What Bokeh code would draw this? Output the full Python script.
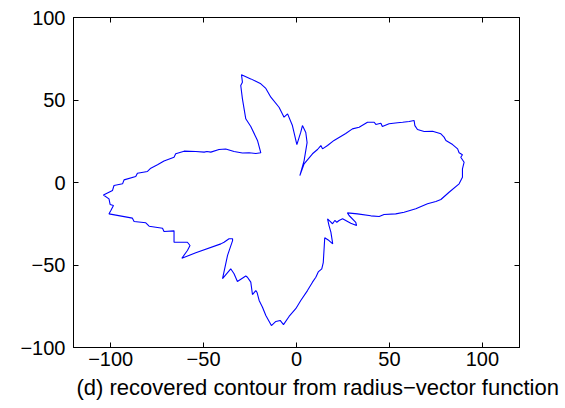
from bokeh.plotting import figure
from bokeh.models import Range1d, FixedTicker, LinearAxis, Title, CustomJSTickFormatter
from bokeh.embed import file_html
from bokeh.resources import INLINE

# Recovered contour, traced as (x, y) pairs going round the shape once
contour_x = [1.8, 4.1, 8.6, 11.3, 13.1, 14.0, 16.7, 20.2, 26.5, 30.1, 33.7, 38.2, 41.8, 42.7,
             45.4, 46.2, 49.8, 54.4, 57.1, 60.6, 63.3, 63.7, 65.1, 68.7, 73.2, 77.7, 79.4, 80.4,
             84.0, 86.7, 87.5, 89.3, 88.4, 90.2, 89.3, 89.3, 88.4, 87.5, 82.1, 77.7, 75.0, 70.5,
             64.2, 57.9, 53.4, 47.1, 44.5, 40.0, 32.8, 27.4, 28.3, 31.9, 32.3, 29.2, 24.8, 22.9,
             21.7, 20.6, 19.4, 18.1, 16.7, 17.5, 18.5, 19.5, 17.5, 15.2, 14.9, 14.4, 13.6, 11.7,
             10.4, 8.6, 5.9, 2.3, -0.4, -4.0, -7.0, -8.8, -11.1, -13.5, -16.5, -18.3, -20.1,
             -21.2, -21.9, -23.7, -24.6, -26.4, -27.3, -31.8, -33.6, -35.4, -39.8, -37.1, -34.4,
             -34.4, -36.3, -39.0, -40.7, -54.2, -61.7, -58.7, -57.3, -58.7, -65.9, -65.9, -71.3,
             -72.1, -79.3, -81.1, -87.4, -88.3, -100.9, -99.9, -98.5, -100.3, -100.9, -103.9,
             -99.0, -98.2, -93.6, -92.8, -86.5, -85.6, -80.2, -78.4, -74.8, -71.3, -65.9, -65.0,
             -60.5, -54.2, -49.7, -48.2, -46.1, -41.7, -38.1, -33.6, -29.1, -25.5, -21.9, -19.2,
             -21.0, -24.6, -27.3, -29.1, -30.0, -29.1, -29.6, -24.6, -19.2, -16.5, -13.8, -9.4,
             -6.7, -4.8, -2.2, 0.2, 2.3, 3.2, 5.0, 5.7, 4.1, 1.8]
contour_y = [4.2, 11.3, 17.4, 20.0, 22.4, 20.4, 22.4, 25.5, 29.7, 32.5, 33.5, 36.5, 36.5, 35.2,
             35.9, 33.9, 35.6, 36.2, 36.5, 37.0, 37.6, 34.5, 32.1, 30.9, 31.1, 29.5, 27.5, 25.5,
             23.0, 20.4, 18.0, 16.8, 15.3, 12.3, 8.3, 3.2, 1.2, -0.8, -5.9, -10.3, -11.5, -12.9,
             -15.9, -18.0, -19.0, -19.4, -20.6, -20.2, -19.0, -18.4, -20.0, -24.1, -26.1, -24.7,
             -22.0, -23.0, -24.1, -23.0, -25.0, -23.5, -22.0, -26.1, -30.1, -37.2, -35.2, -33.5,
             -39.2, -48.5, -52.3, -54.2, -57.4, -60.4, -65.5, -71.5, -76.5, -81.2, -86.1, -83.6,
             -84.2, -86.7, -80.6, -75.6, -71.5, -66.7, -65.5, -67.9, -60.4, -57.4, -56.7, -60.0,
             -55.3, -52.3, -58.2, -44.2, -35.2, -34.1, -34.1, -36.2, -37.2, -42.6, -45.9, -41.2,
             -38.2, -36.2, -36.2, -29.3, -29.7, -27.7, -26.5, -24.4, -23.6, -21.6, -19.0, -17.0,
             -13.9, -13.3, -9.9, -7.6, -4.8, -1.8, -0.8, 1.6, 3.6, 5.6, 6.7, 8.7, 10.7, 13.0,
             15.3, 17.4, 19.0, 18.8, 18.4, 18.8, 18.4, 20.0, 20.3, 18.8, 17.9, 18.0, 17.6, 18.0,
             25.5, 33.9, 38.6, 50.7, 58.8, 60.8, 65.3, 62.8, 59.8, 57.0, 51.7, 45.6, 39.6, 41.6,
             34.5, 23.0, 30.5, 34.5, 30.3, 24.2, 13.3, 4.2]

x_ticks = [-100, -50, 0, 50, 100]
y_ticks = [-100, -50, 0, 50, 100]
caption = "(d) recovered contour from radius\u2212vector function"

FONT = "Liberation Sans"

p = figure(frame_width=446, frame_height=330, output_backend="svg", toolbar_location=None,
           x_range=Range1d(-120, 120), y_range=Range1d(-100, 100),
           min_border_left=73, min_border_right=46, min_border_top=17, min_border_bottom=61)

p.line(contour_x, contour_y, line_color="#0000ff", line_width=1.1)

p.xgrid.visible = False
p.ygrid.visible = False
p.outline_line_color = "black"
p.outline_line_width = 1
p.background_fill_color = "white"
p.border_fill_color = "white"

minus_labels = {t: (("\u2212" + str(abs(t))) if t < 0 else str(t)) for t in x_ticks}

for ax, ticks in ((p.xaxis[0], x_ticks), (p.yaxis[0], y_ticks)):
    ax.ticker = FixedTicker(ticks=ticks)
    ax.major_label_overrides = minus_labels
    ax.major_tick_in = 5
    ax.major_tick_out = 0
    ax.minor_tick_in = 0
    ax.minor_tick_out = 0
    ax.axis_line_color = "black"
    ax.major_tick_line_color = "black"
    ax.major_label_text_font = FONT
    ax.major_label_text_font_size = "20px"
    ax.major_label_text_color = "black"

p.xaxis[0].major_label_standoff = 4
p.yaxis[0].major_label_standoff = 8

# Mirror ticks on the top and right edges of the box, without labels
blank = CustomJSTickFormatter(code="return '';")
top_axis = LinearAxis(ticker=FixedTicker(ticks=x_ticks), formatter=blank,
                      major_tick_in=5, major_tick_out=0, minor_tick_in=0, minor_tick_out=0,
                      major_label_standoff=0, axis_line_color="black")
right_axis = LinearAxis(ticker=FixedTicker(ticks=y_ticks), formatter=blank,
                        major_tick_in=5, major_tick_out=0, minor_tick_in=0, minor_tick_out=0,
                        major_label_standoff=0, axis_line_color="black")
p.add_layout(top_axis, "above")
p.add_layout(right_axis, "right")

# Caption under the x axis
p.add_layout(Title(text=caption, align="left", offset=3, standoff=8,
                   text_font=FONT, text_font_size="22px", text_font_style="normal",
                   text_color="black"), "below")

open("out.html", "w").write(file_html(p, INLINE))
